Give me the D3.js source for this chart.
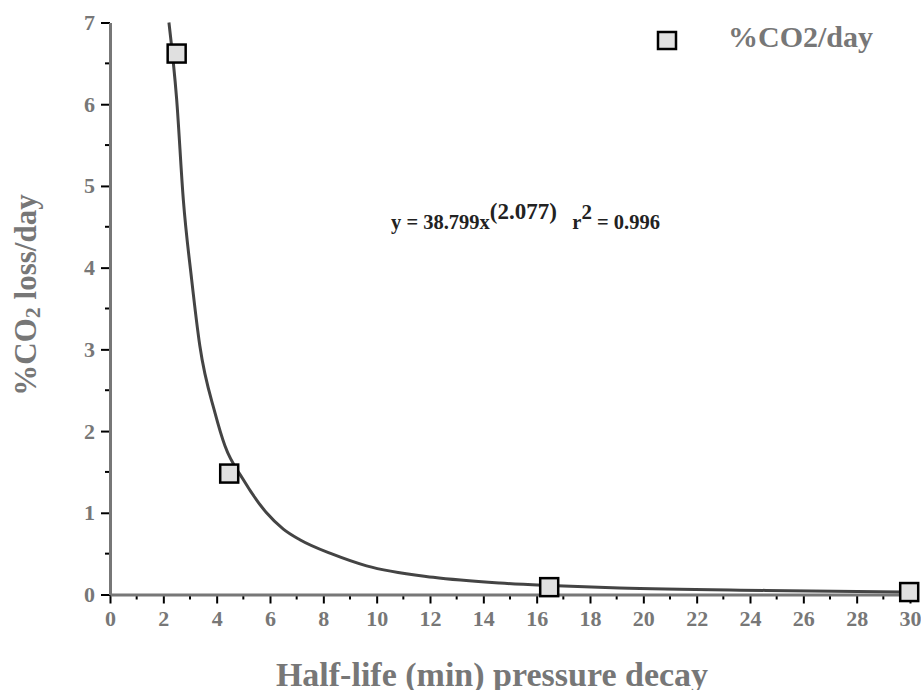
<!DOCTYPE html>
<html>
<head>
<meta charset="utf-8">
<script src="https://cdn.jsdelivr.net/npm/d3@7"></script>
<style>
  body { margin: 0; background: #fff; }
</style>
</head>
<body>
<div id="chart"></div>
<script>
// measured points
var halfLife = [2.5, 4.47, 16.47, 29.97];
var co2Loss = [6.62, 1.48, 0.09, 0.03];

// fitted curve
var fitX = [2.21, 2.5, 2.75, 3.06, 3.37, 3.94, 4.31, 4.99, 5.87, 6.5, 7.12, 8.37, 9.62, 12.12, 14.62, 16.5, 19.1, 24.6, 29.9];
var fitY = [7.0, 6.06, 4.83, 3.86, 3.04, 2.22, 1.82, 1.41, 1.0, 0.8, 0.67, 0.49, 0.35, 0.21, 0.14, 0.11, 0.08, 0.05, 0.03];

var xTicks = d3.range(0, 31, 2);
var yTicks = d3.range(0, 8, 1);

var width = 921, height = 690;
var grey = '#777';
var serif = '"Liberation Serif", "Times New Roman", "DejaVu Serif", serif';

var svg = d3.select('#chart').append('svg')
	.attr('width', width)
	.attr('height', height)
	.attr('font-family', serif)
	.attr('font-weight', 'bold');

var x = d3.scaleLinear().domain([0, 30]).range([110, 910]);
var y = d3.scaleLinear().domain([0, 7]).range([594.5, 22.5]);

///***** axes *****///
var xAxis = d3.axisBottom(x).tickValues(xTicks).tickFormat(d3.format('d'))
	.tickSize(9).tickSizeOuter(0).tickPadding(7);
var yAxis = d3.axisLeft(y).tickValues(yTicks).tickFormat(d3.format('d'))
	.tickSize(9).tickSizeOuter(0).tickPadding(6);

var gx = svg.append('g').attr('transform', 'translate(0,' + y(0) + ')').call(xAxis);
var gy = svg.append('g').attr('transform', 'translate(' + x(0) + ',0)').call(yAxis);

// minor ticks
gx.selectAll('.minor').data(d3.range(1, 30, 2)).enter().append('line')
	.attr('x1', function(d){return x(d);}).attr('x2', function(d){return x(d);})
	.attr('y1', 0).attr('y2', 5)
	.attr('stroke', '#000').attr('stroke-width', 2);
gy.selectAll('.minor').data(d3.range(0.5, 7, 1)).enter().append('line')
	.attr('y1', function(d){return y(d);}).attr('y2', function(d){return y(d);})
	.attr('x1', 0).attr('x2', -5)
	.attr('stroke', '#000').attr('stroke-width', 2);

[gx, gy].forEach(function(g){
	g.attr('font-family', serif).attr('font-size', 22);
	g.select('.domain').attr('stroke', grey).attr('stroke-width', 3);
	g.selectAll('.tick line').attr('stroke', '#000').attr('stroke-width', 2);
	g.selectAll('.tick text').attr('fill', grey);
});
gx.select('.domain').raise();
gy.select('.domain').raise();

///***** fitted curve *****///
var fit = fitX.map(function(d, i){return [d, fitY[i]];});
var line = d3.line()
	.x(function(d){return x(d[0]);})
	.y(function(d){return y(d[1]);})
	.curve(d3.curveMonotoneX);

svg.append('path')
	.datum(fit)
	.attr('d', line)
	.attr('fill', 'none')
	.attr('stroke', '#444')
	.attr('stroke-width', 3);

///***** markers *****///
var sq = 18;
svg.selectAll('.pt').data(halfLife).enter().append('rect')
	.attr('x', function(d){return x(d) - sq/2;})
	.attr('y', function(d, i){return y(co2Loss[i]) - sq/2;})
	.attr('width', sq).attr('height', sq)
	.attr('fill', '#e0e0e0')
	.attr('stroke', '#000')
	.attr('stroke-width', 2.5);

///***** titles *****///
svg.append('text')
	.attr('x', 492).attr('y', 686)
	.attr('text-anchor', 'middle')
	.attr('fill', grey)
	.attr('font-size', 34)
	.text('Half-life (min) pressure decay');

var yt = svg.append('text')
	.attr('transform', 'translate(36,295) rotate(-90)')
	.attr('text-anchor', 'middle')
	.attr('fill', grey)
	.attr('font-size', 31);
yt.append('tspan').text('%CO');
yt.append('tspan').attr('dy', 4).attr('font-size', 22).text('2');
yt.append('tspan').attr('dy', -4).text(' loss/day');

///***** legend *****///
svg.append('rect')
	.attr('x', 658).attr('y', 32).attr('width', 18).attr('height', 17)
	.attr('fill', '#e0e0e0').attr('stroke', '#000').attr('stroke-width', 2.5);
svg.append('text')
	.attr('x', 728).attr('y', 47)
	.attr('fill', grey)
	.attr('font-size', 30)
	.text('%CO2/day');

///***** equation *****///
var eq = svg.append('text')
	.attr('x', 391).attr('y', 229)
	.attr('fill', '#222')
	.attr('font-size', 20.5);
eq.append('tspan').text('y = 38.799x');
eq.append('tspan').attr('dy', -10).attr('font-size', 23).text('(2.077)');
eq.append('tspan').attr('dy', 10).text('\u00a0\u00a0 r');
eq.append('tspan').attr('dy', -10).attr('font-size', 21).text('2');
eq.append('tspan').attr('dy', 10).text(' = 0.996');
</script>
</body>
</html>
